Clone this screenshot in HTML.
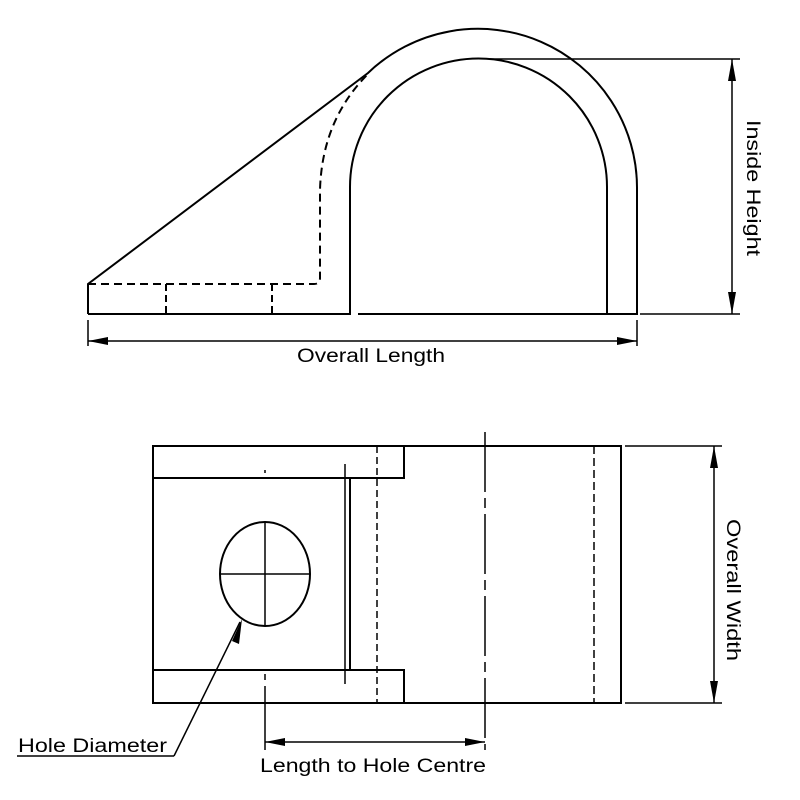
<!DOCTYPE html>
<html><head><style>html,body{margin:0;padding:0;background:#fff}svg{display:block}</style></head>
<body>
<svg width="800" height="800" viewBox="0 0 800 800" xmlns="http://www.w3.org/2000/svg" font-family="Liberation Sans, sans-serif">
<g fill="none" stroke="#000" stroke-width="2">
<!-- side view -->
<path d="M88,314 V284 L368,73 A159,159 0 0 1 637,189 V314 H607 V187 A128,128 0 0 0 350,187 V314 H88"/>
<line x1="358" y1="314" x2="637" y2="314"/>
<path d="M88,284 H314 Q320,284 320,278 V190 Q322,120 368,74" stroke-dasharray="8,5"/>
<line x1="166" y1="284" x2="166" y2="314" stroke-dasharray="7,4"/>
<line x1="272" y1="284" x2="272" y2="314" stroke-dasharray="7,4"/>
<!-- bottom view -->
<rect x="153" y="446" width="468" height="257"/>
<path d="M153,478 H404 V446"/>
<path d="M153,670 H404 V703"/>
<line x1="350" y1="478" x2="350" y2="670"/>
<ellipse cx="265" cy="574" rx="45" ry="52"/>
</g>
<g fill="none" stroke="#000" stroke-width="1.5">
<line x1="345" y1="464" x2="345" y2="684"/>
<line x1="377" y1="446" x2="377" y2="703" stroke-dasharray="7,4"/>
<line x1="594" y1="446" x2="594" y2="703" stroke-dasharray="8,4"/>
<line x1="485" y1="432" x2="485" y2="750" stroke-dasharray="60,6,10,6"/>
<line x1="265" y1="522" x2="265" y2="626"/>
<line x1="220" y1="574" x2="310" y2="574"/>
<line x1="265" y1="470" x2="265" y2="473"/>
<line x1="265" y1="674" x2="265" y2="750" stroke-dasharray="6,6,70,0"/>
<!-- dims -->
<line x1="88" y1="320" x2="88" y2="346"/>
<line x1="637" y1="320" x2="637" y2="346"/>
<line x1="88" y1="341" x2="637" y2="341"/>
<line x1="490" y1="59" x2="740" y2="59"/>
<line x1="640" y1="314" x2="740" y2="314"/>
<line x1="732" y1="59" x2="732" y2="314"/>
<line x1="625" y1="446" x2="722" y2="446"/>
<line x1="625" y1="703" x2="722" y2="703"/>
<line x1="714" y1="446" x2="714" y2="703"/>
<line x1="265" y1="742" x2="485" y2="742"/>
<line x1="17" y1="756" x2="174" y2="756"/>
<line x1="174" y1="756" x2="240" y2="622"/>
</g>
<g fill="#000">
<polygon points="88,341 108,337 108,345"/>
<polygon points="637,341 617,337 617,345"/>
<polygon points="732,59 728,81 736,81"/>
<polygon points="732,314 728,292 736,292"/>
<polygon points="714,446 710,468 718,468"/>
<polygon points="714,703 710,681 718,681"/>
<polygon points="265,742 285,738 285,746"/>
<polygon points="485,742 465,738 465,746"/>
<polygon points="242,619 232,641 239,644"/>
</g>
<g font-size="19" fill="#000">
<text x="297" y="362" textLength="148" lengthAdjust="spacingAndGlyphs">Overall Length</text>
<text x="260" y="772" textLength="226" lengthAdjust="spacingAndGlyphs">Length to Hole Centre</text>
<text x="18" y="752" textLength="149" lengthAdjust="spacingAndGlyphs">Hole Diameter</text>
<text transform="translate(747,120) rotate(90)" textLength="136" lengthAdjust="spacingAndGlyphs">Inside Height</text>
<text transform="translate(727,519) rotate(90)" textLength="142" lengthAdjust="spacingAndGlyphs">Overall Width</text>
</g>
</svg>
</body></html>
